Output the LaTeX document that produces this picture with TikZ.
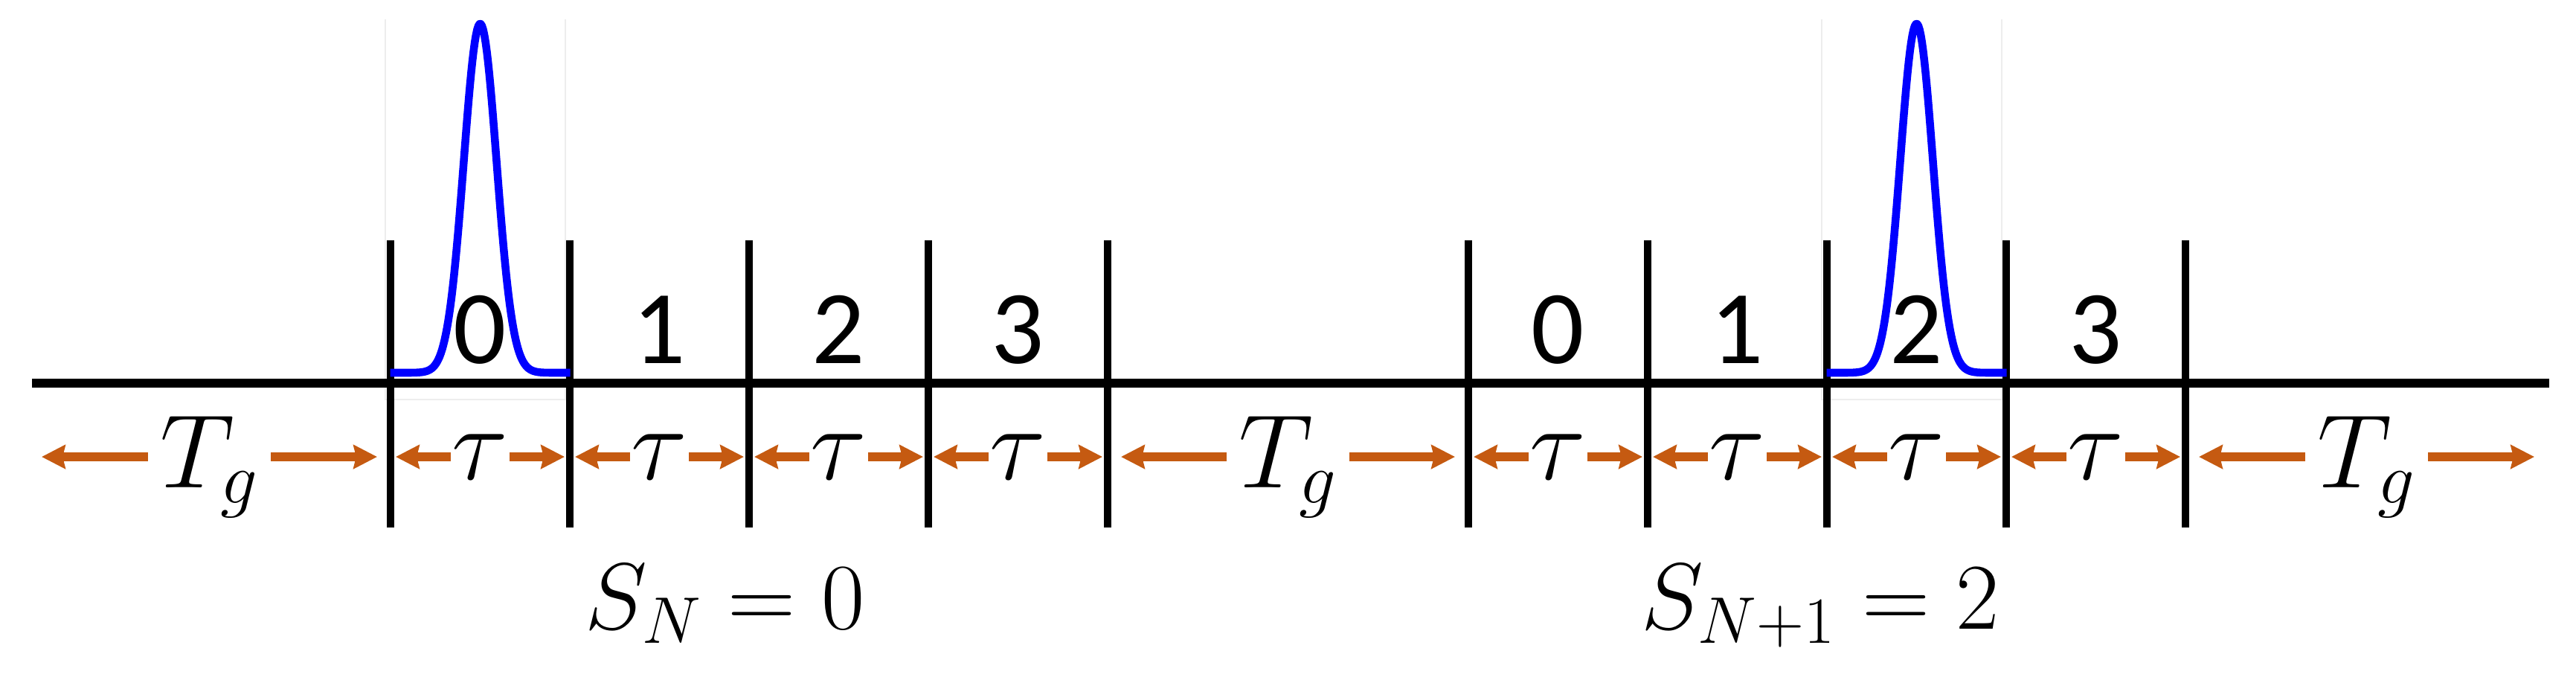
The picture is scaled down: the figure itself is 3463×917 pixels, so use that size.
\RequirePackage{fix-cm}
\documentclass[tikz,border=0pt]{standalone}
\usepackage{fontspec}
\newfontfamily\slotfont{Carlito}
\usetikzlibrary{arrows.meta}
\definecolor{spanorange}{RGB}{197,90,17}

\tikzset{
  timeline/.style={line width=3.4pt},
  slotline/.style={line width=3pt},
  pulse/.style={blue,line width=3pt,line join=round},
  pulseframe/.style={draw=black!7,line width=0.4pt},
  slotnum/.style={anchor=base,font=\slotfont\fontsize{40pt}{48pt}\selectfont},
  tau/.style={inner sep=0pt,minimum width=0.78cm,font=\fontsize{40pt}{48pt}\selectfont},
  gapnode/.style={anchor=base,inner sep=0pt,minimum width=1.64cm,font=\fontsize{40pt}{48pt}\selectfont},
  slabel/.style={anchor=base,font=\fontsize{36pt}{43pt}\selectfont},
  span/.style={draw=spanorange,line width=3.4pt,-{Stealth[length=9pt,width=9pt,inset=1pt]},shorten >=0.07cm},
  longspan/.style={span,shorten >=0.18cm}
}

\begin{document}
\begin{tikzpicture}[x=0.01cm,y=-0.01cm]
\useasboundingbox (0,0) rectangle (3463,917);
% ends and slot borders, at arrow height
\coordinate (L) at (38,614);
\coordinate (R) at (3425,614);
\coordinate (a0) at (525,614);
\coordinate (a1) at (766,614);
\coordinate (a2) at (1007,614);
\coordinate (a3) at (1248,614);
\coordinate (a4) at (1489,614);
\coordinate (b0) at (1974,614);
\coordinate (b1) at (2215,614);
\coordinate (b2) at (2456,614);
\coordinate (b3) at (2697,614);
\coordinate (b4) at (2938,614);

% faint frames of the pulse pictures
\draw[pulseframe] (518,26) -- (518,537) -- (760,537) -- (760,26);
\draw[pulseframe] (2449,26) -- (2449,537) -- (2691,537) -- (2691,26);

\draw[timeline] (43,515) -- (3427,515);
\draw[slotline] (525,323) -- (525,709);
\draw[slotline] (766,323) -- (766,709);
\draw[slotline] (1007,323) -- (1007,709);
\draw[slotline] (1248,323) -- (1248,709);
\draw[slotline] (1489,323) -- (1489,709);
\draw[slotline] (1974,323) -- (1974,709);
\draw[slotline] (2215,323) -- (2215,709);
\draw[slotline] (2456,323) -- (2456,709);
\draw[slotline] (2697,323) -- (2697,709);
\draw[slotline] (2938,323) -- (2938,709);

% the two pulses
\draw[pulse] plot[domain=-121:121,samples=150] ({645.5+\x},{501-469*exp(-0.5*(\x/22)^2)});
\draw[pulse] plot[domain=-121:121,samples=150] ({2576.5+\x},{501-469*exp(-0.5*(\x/22)^2)});

% slot numbers
\node[slotnum] (p0) at (645.5,488) {0};
\node[slotnum] (p1) at (886.5,488) {1};
\node[slotnum] (p2) at (1127.5,488) {2};
\node[slotnum] (p3) at (1368.5,488) {3};
\node[slotnum] (q0) at (2094.5,488) {0};
\node[slotnum] (q1) at (2335.5,488) {1};
\node[slotnum] (q2) at (2576.5,488) {2};
\node[slotnum] (q3) at (2817.5,488) {3};

% slot durations
\node[tau] (t0) at (645.5,614) {$\tau$};
\node[tau] (t1) at (886.5,614) {$\tau$};
\node[tau] (t2) at (1127.5,614) {$\tau$};
\node[tau] (t3) at (1368.5,614) {$\tau$};
\node[tau] (u0) at (2094.5,614) {$\tau$};
\node[tau] (u1) at (2335.5,614) {$\tau$};
\node[tau] (u2) at (2576.5,614) {$\tau$};
\node[tau] (u3) at (2817.5,614) {$\tau$};
\draw[span] (t0) -- (a0);
\draw[span] (t0) -- (a1);
\draw[span] (t1) -- (a1);
\draw[span] (t1) -- (a2);
\draw[span] (t2) -- (a2);
\draw[span] (t2) -- (a3);
\draw[span] (t3) -- (a3);
\draw[span] (t3) -- (a4);
\draw[span] (u0) -- (b0);
\draw[span] (u0) -- (b1);
\draw[span] (u1) -- (b1);
\draw[span] (u1) -- (b2);
\draw[span] (u2) -- (b2);
\draw[span] (u2) -- (b3);
\draw[span] (u3) -- (b3);
\draw[span] (u3) -- (b4);

% guard times
\node[gapnode] (g0) at (281.5,655) {$T_g$};
\node[gapnode] (g1) at (1731.5,655) {$T_g$};
\node[gapnode] (g2) at (3181.5,655) {$T_g$};
\draw[longspan] (g0.west |- L) -- (L);
\draw[longspan] (g0.east |- L) -- (a0);
\draw[longspan] (g1.west |- L) -- (a4);
\draw[longspan] (g1.east |- L) -- (b0);
\draw[longspan] (g2.west |- L) -- (b4);
\draw[longspan] (g2.east |- L) -- (R);

\node[slabel] (s0) at (975,845) {$S_N = 0$};
\node[slabel] (s1) at (2447,845) {$S_{N+1} = 2$};
\end{tikzpicture}
\end{document}
